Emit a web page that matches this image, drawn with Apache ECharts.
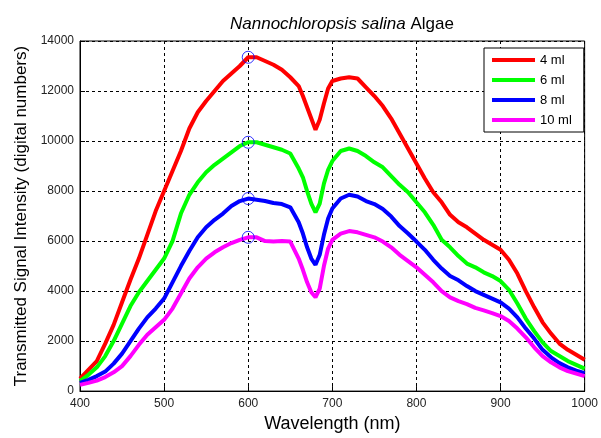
<!DOCTYPE html>
<html>
<head>
<meta charset="utf-8">
<script src="https://cdn.jsdelivr.net/npm/echarts@6/dist/echarts.min.js"></script>
<style>html,body{margin:0;padding:0;background:#fff}#c{width:601px;height:438px}</style>
</head>
<body>
<div id="c"></div>
<script>
const wavelengths = [400,410,420,430,440,450,460,470,480,490,500,510,520,530,540,550,560,570,580,590,600,610,620,630,640,650,660,665,670,675,680,685,690,695,700,710,720,730,740,750,760,770,780,790,800,810,820,830,840,850,860,870,880,890,900,910,920,930,940,950,960,970,980,990,1000];
const ml4 = [500,850,1200,1900,2650,3550,4450,5300,6250,7200,8000,8800,9600,10500,11150,11600,12000,12400,12700,13000,13350,13350,13200,13050,12850,12550,12200,11800,11350,10900,10450,10850,11500,12100,12400,12500,12550,12500,12150,11800,11400,10900,10300,9700,9100,8500,7950,7550,7050,6750,6550,6300,6050,5850,5650,5250,4700,4000,3350,2750,2300,1900,1650,1450,1250];
const ml6 = [400,650,950,1400,2000,2700,3400,3950,4400,4850,5300,6000,7100,7850,8350,8750,9050,9300,9550,9800,9950,9950,9850,9750,9650,9500,8900,8550,8000,7500,7150,7500,8300,8850,9200,9600,9700,9600,9400,9150,8950,8600,8250,7950,7550,7150,6650,6050,5750,5400,5100,4950,4750,4600,4400,4050,3500,2900,2400,1950,1600,1400,1200,1050,900];
const ml8 = [330,450,600,780,1100,1500,2000,2500,2950,3300,3700,4350,5000,5600,6150,6550,6850,7100,7400,7600,7700,7650,7600,7520,7480,7350,6750,6300,5750,5300,5050,5450,6250,6900,7300,7700,7850,7780,7600,7480,7280,6980,6600,6300,5980,5650,5250,4900,4600,4430,4200,4000,3850,3700,3550,3300,2950,2500,2100,1650,1350,1120,950,820,720];
const ml10 = [250,330,420,560,750,1000,1400,1850,2250,2550,2850,3300,3900,4500,4950,5300,5550,5750,5920,6050,6150,6150,6000,5980,6000,5980,5300,4850,4350,3950,3750,4100,5000,5700,6050,6300,6400,6350,6250,6150,5980,5750,5450,5200,4950,4650,4350,4000,3750,3600,3480,3330,3230,3120,3000,2800,2500,2150,1750,1400,1150,950,800,700,600];
const seriesNames = ['4 ml','6 ml','8 ml','10 ml'];
const seriesColors = ['#ff0000','#00ff00','#0000ff','#ff00ff'];
const markerWavelength = 600;
const xTicks = [400,500,600,700,800,900,1000];
const yTicks = [0,2000,4000,6000,8000,10000,12000,14000];

const allSeries = [ml4, ml6, ml8, ml10];
const idx = wavelengths.indexOf(markerWavelength);
const font = '"Liberation Sans", Arial, sans-serif';

const series = allSeries.map((vals, i) => ({
  name: seriesNames[i],
  type: 'line',
  data: wavelengths.map((w, j) => [w, vals[j]]),
  showSymbol: false,
  symbol: 'none',
  color: seriesColors[i],
  lineStyle: { width: 4, color: seriesColors[i] },
  itemStyle: { color: seriesColors[i] },
  z: 2 + i
}));
series.push({
  name: 'peaks',
  type: 'scatter',
  data: allSeries.map(v => [markerWavelength, v[idx]]),
  symbol: 'circle',
  symbolSize: 12,
  itemStyle: { color: 'rgba(0,0,0,0)', borderColor: '#0000ff', borderWidth: 1 },
  z: 10,
  silent: true
});

const plain = v => String(v);

const chart = echarts.init(document.getElementById('c'), null, { renderer: 'canvas' });
chart.setOption({
  animation: false,
  backgroundColor: '#fff',
  title: {
    text: '{i|Nannochloropsis salina} Algae',
    left: 337, top: 11, textAlign: 'center',
    textStyle: { fontFamily: font, fontSize: 17, fontWeight: 'normal', color: '#000',
      rich: { i: { fontFamily: font, fontSize: 17, fontStyle: 'italic', color: '#000' } } }
  },
  grid: { left: 80, right: 14, top: 41, bottom: 45, show: true, borderColor: '#000', borderWidth: 1, backgroundColor: '#fff' },
  legend: {
    data: seriesNames,
    orient: 'vertical',
    left: 484, top: 48,
    padding: [5, 12, 5, 8],
    itemWidth: 43, itemHeight: 4, itemGap: 6,
    icon: 'rect',
    backgroundColor: '#fff',
    borderColor: '#000', borderWidth: 1,
    textStyle: { fontFamily: font, fontSize: 13, color: '#000', lineHeight: 14 }
  },
  xAxis: {
    type: 'value', min: 400, max: 1000, interval: 100,
    name: 'Wavelength (nm)', nameLocation: 'middle', nameGap: 23,
    nameTextStyle: { fontFamily: font, fontSize: 18, color: '#000' },
    axisLine: { show: true, lineStyle: { color: '#000', width: 1 } },
    axisTick: { show: true, inside: true, length: 5, lineStyle: { color: '#000' } },
    axisLabel: { fontFamily: font, fontSize: 12, color: '#222', margin: 7,
      customValues: xTicks, formatter: plain },
    splitLine: { show: true, lineStyle: { color: '#000', type: [3, 3], width: 1 } }
  },
  yAxis: {
    type: 'value', min: 0, max: 14000, interval: 2000,
    name: 'Transmitted Signal Intensity (digital numbers)', nameLocation: 'middle', nameGap: 48,
    nameTextStyle: { fontFamily: font, fontSize: 17, color: '#000' },
    axisLine: { show: true, lineStyle: { color: '#000', width: 1 } },
    axisTick: { show: true, inside: true, length: 5, lineStyle: { color: '#000' } },
    axisLabel: { fontFamily: font, fontSize: 12, color: '#222', margin: 6, customValues: yTicks, formatter: plain },
    splitLine: { show: true, lineStyle: { color: '#000', type: [3, 3], width: 1 } }
  },
  series: series
});
</script>
</body>
</html>
